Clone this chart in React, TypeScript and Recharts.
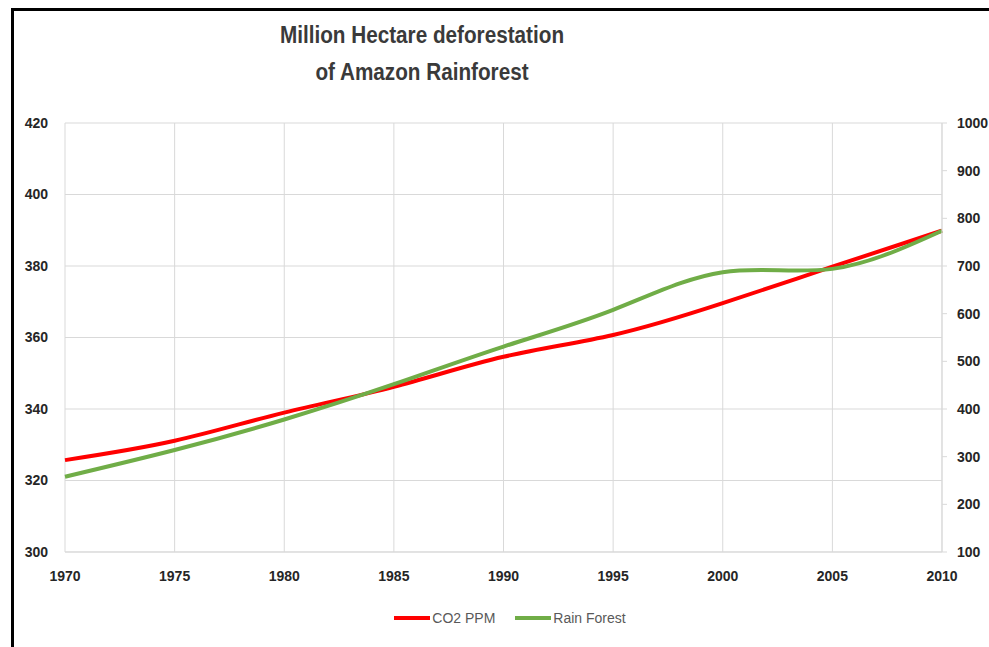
import { LineChart, Line, XAxis, YAxis, CartesianGrid, Legend } from 'recharts';

const years = [1970, 1975, 1980, 1985, 1990, 1995, 2000, 2005, 2010];
const co2Ppm = [325.7, 331.1, 339.0, 346.2, 354.6, 360.7, 369.6, 379.8, 389.9];
const rainForest = [258, 314, 378, 452, 531, 608, 687, 694, 774];

const xTicks = [1970, 1975, 1980, 1985, 1990, 1995, 2000, 2005, 2010];
const leftTicks = [300, 320, 340, 360, 380, 400, 420];
const rightTicks = [100, 200, 300, 400, 500, 600, 700, 800, 900, 1000];

const data = years.map((year, i) => ({ year, co2: co2Ppm[i], forest: rainForest[i] }));

const tickStyle = { fontFamily: '"Liberation Sans", Arial, sans-serif', fontSize: 14, fontWeight: 700, fill: '#262626' };

const renderLegend = (props: any) => {
  const { payload } = props;
  return (
    <div style={{ display: 'flex', justifyContent: 'center', alignItems: 'center', gap: 20, paddingLeft: 21, fontFamily: '"Liberation Sans", Arial, sans-serif', fontSize: 14, color: '#595959' }}>
      {payload.map((entry: any) => (
        <div key={entry.value} style={{ display: 'flex', alignItems: 'center' }}>
          <span style={{ display: 'inline-block', width: 36, height: 4, background: entry.color, marginRight: 2 }} />
          <span>{entry.value}</span>
        </div>
      ))}
    </div>
  );
};

export default function App() {
  return (
    <div style={{ position: 'absolute', left: 0, top: 0, width: 989, height: 647, background: '#fff', overflow: 'hidden' }}>
      <div style={{ position: 'absolute', left: 11, top: 8, width: 1000, height: 700, borderTop: '3px solid #000', borderLeft: '3px solid #000' }} />
      <div style={{ position: 'absolute', left: 222, top: 17, width: 400, textAlign: 'center', fontFamily: '"Liberation Sans", Arial, sans-serif', fontSize: 23, fontWeight: 700, color: '#3a3a3a', lineHeight: '37px', transform: 'scaleX(0.9)' }}>
        Million Hectare deforestation
        <br />
        of Amazon Rainforest
      </div>
      <div style={{ position: 'absolute', left: 0, top: 0 }}>
        <LineChart width={989} height={647} data={data} margin={{ top: 123, right: 0, bottom: 39, left: 10 }}>
          <CartesianGrid stroke="#d9d9d9" strokeWidth={1} yAxisId="left" />
          <XAxis
            dataKey="year"
            type="number"
            domain={[1970, 2010]}
            ticks={xTicks}
            height={40}
            tickSize={0}
            tickMargin={19}
            axisLine={{ stroke: '#d9d9d9' }}
            tick={tickStyle}
          />
          <YAxis
            yAxisId="left"
            domain={[300, 420]}
            ticks={leftTicks}
            width={55}
            tickSize={0}
            tickMargin={17}
            axisLine={false}
            tick={tickStyle}
          />
          <YAxis
            yAxisId="right"
            orientation="right"
            domain={[100, 1000]}
            ticks={rightTicks}
            width={47}
            tickSize={5}
            tickMargin={10}
            axisLine={{ stroke: '#d9d9d9' }}
            tickLine={{ stroke: '#d9d9d9' }}
            tick={{ ...tickStyle, textAnchor: 'start' }}
          />
          <Legend verticalAlign="bottom" content={renderLegend} wrapperStyle={{ bottom: 21 }} />
          <Line yAxisId="left" type="natural" dataKey="co2" name="CO2 PPM" stroke="#ff0000" strokeWidth={4} dot={false} isAnimationActive={false} />
          <Line yAxisId="right" type="natural" dataKey="forest" name="Rain Forest" stroke="#70ad47" strokeWidth={4} dot={false} isAnimationActive={false} />
        </LineChart>
      </div>
    </div>
  );
}
